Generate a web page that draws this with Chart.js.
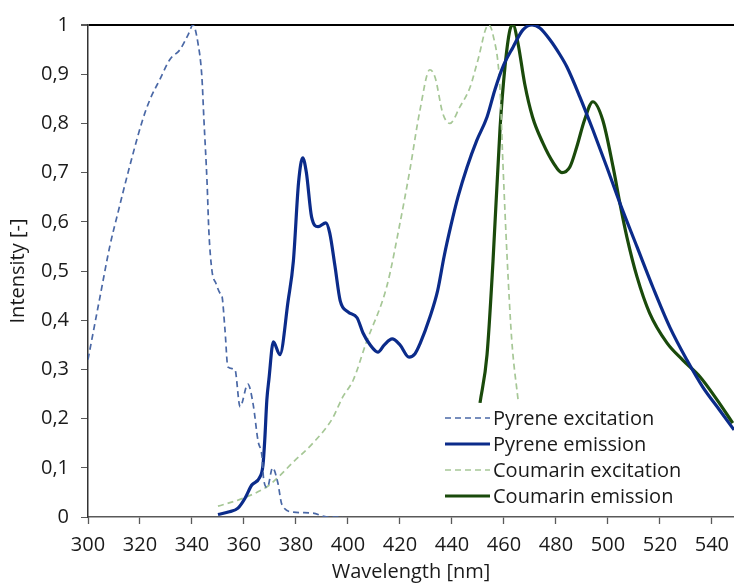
<!DOCTYPE html>
<html>
<head>
<meta charset="utf-8">
<script src="https://cdn.jsdelivr.net/npm/chart.js@4/dist/chart.umd.min.js"></script>
<style>
html,body{margin:0;padding:0;background:#fff;}
canvas{display:block;}
</style>
</head>
<body>
<canvas id="c" width="734" height="584"></canvas>
<script>
// ---- Data (wavelength nm, normalised intensity) ----
const pyExX = [300,304.6,308.5,311.5,315.4,321,323.8,327.7,331.5,335.4,338.5,340.4,342.3,343.8,344.6,345.8,346.5,347.7,349.2,350.8,351.5,352.7,353.8,356.5,358.5,361.5,363.5,365.4,367,367.5,369,371,373,374.6,379,386.5,392,398];
const pyExY = [0.32,0.447,0.553,0.618,0.70,0.807,0.848,0.89,0.93,0.95,0.98,1.0,0.963,0.895,0.807,0.68,0.58,0.50,0.475,0.455,0.45,0.38,0.305,0.30,0.224,0.27,0.23,0.155,0.12,0.08,0.06,0.10,0.07,0.025,0.01,0.008,0.0,0.0];

const pyEmX = [350,354,357.7,360.4,363,366,367.3,368,368.8,369.6,371.3,373.8,377,379,381,382.6,384,386,388.5,391.5,393,395,397,400,403.5,405.8,408.5,411.5,414,417,420,423.5,425.8,427.7,431.5,434.5,437,439.5,442.3,445.8,449.6,453.5,456.5,459.6,463.5,467.3,470.8,473.8,477.7,481.5,484.2,489.2,494.2,499.6,504.6,511.2,517.3,523.8,530.4,536.5,543,548.5];
const pyEmY = [0.005,0.01,0.018,0.038,0.065,0.08,0.105,0.157,0.238,0.28,0.356,0.33,0.44,0.52,0.68,0.73,0.70,0.61,0.59,0.598,0.577,0.51,0.44,0.417,0.405,0.374,0.35,0.335,0.35,0.362,0.35,0.325,0.332,0.352,0.406,0.46,0.53,0.59,0.65,0.711,0.766,0.813,0.868,0.915,0.955,0.99,1.0,0.994,0.97,0.94,0.915,0.854,0.787,0.711,0.638,0.549,0.467,0.386,0.319,0.264,0.217,0.177];

const coExX = [350,359.6,369,373,379,386.5,394,398,402,407,415,420,423.8,427.7,431.5,433.5,436.5,439.2,443,447,450,454,455.8,458.5,459.6,461.2,463,465.5];
const coExY = [0.022,0.038,0.062,0.08,0.112,0.15,0.20,0.244,0.278,0.354,0.47,0.597,0.705,0.827,0.909,0.894,0.82,0.80,0.833,0.874,0.929,1.0,0.98,0.87,0.72,0.53,0.36,0.235];

const coEmX = [450.8,453.5,455.8,458.5,460.4,462.3,463.5,465.4,468,471,475,479,482.3,485.4,488,491,494.2,498,502,504.6,507.3,511.2,516,522.7,528.8,535.4,542,548];
const coEmY = [0.232,0.33,0.52,0.79,0.915,0.99,1.0,0.963,0.88,0.813,0.76,0.72,0.70,0.712,0.752,0.807,0.844,0.807,0.711,0.638,0.569,0.488,0.415,0.354,0.319,0.285,0.238,0.191];

const seriesLabels = ['Pyrene excitation','Pyrene emission','Coumarin excitation','Coumarin emission'];
const xTicks = [300,320,340,360,380,400,420,440,460,480,500,520,540];
const yTickStep = 0.1;

const zip = (xs, ys) => xs.map((x, i) => ({x: x, y: ys[i]}));

const FONT = '"Open Sans", "Noto Sans", sans-serif';
const FS = 20;

const legendPlugin = {
  id: 'insideLegend',
  afterDraw(chart) {
    const ctx = chart.ctx;
    const x0 = 445, x1 = 490, tx = 493;
    const rows = [418, 444, 470, 496];
    ctx.save();
    ctx.font = FS + 'px ' + FONT;
    ctx.textBaseline = 'middle';
    ctx.textAlign = 'left';
    chart.data.datasets.forEach((ds, i) => {
      const y = rows[i];
      ctx.beginPath();
      ctx.strokeStyle = ds.borderColor;
      ctx.lineWidth = ds.borderWidth;
      ctx.setLineDash(ds.borderDash || []);
      ctx.moveTo(x0, y);
      ctx.lineTo(x1, y);
      ctx.stroke();
      ctx.setLineDash([]);
      ctx.fillStyle = '#1a1a1a';
      ctx.fillText(ds.label, tx, y + 1);
    });
    ctx.restore();
  }
};

new Chart(document.getElementById('c'), {
  type: 'line',
  data: {
    datasets: [
      {label: seriesLabels[0], data: zip(pyExX, pyExY), borderColor: '#4a68a6', borderWidth: 1.7, borderDash: [6,4], pointRadius: 0, cubicInterpolationMode: 'monotone', fill: false},
      {label: seriesLabels[1], data: zip(pyEmX, pyEmY), borderColor: '#0b2b8a', borderWidth: 3.2, pointRadius: 0, cubicInterpolationMode: 'monotone', fill: false},
      {label: seriesLabels[2], data: zip(coExX, coExY), borderColor: '#a6c796', borderWidth: 1.7, borderDash: [6,4], pointRadius: 0, cubicInterpolationMode: 'monotone', fill: false},
      {label: seriesLabels[3], data: zip(coEmX, coEmY), borderColor: '#1a4a0b', borderWidth: 3.2, pointRadius: 0, cubicInterpolationMode: 'monotone', fill: false}
    ]
  },
  options: {
    responsive: false,
    animation: false,
    devicePixelRatio: 1,
    layout: {padding: {top: 25, right: 0, left: 0, bottom: 0}},
    plugins: {legend: {display: false}, tooltip: {enabled: false}},
    scales: {
      x: {
        type: 'linear', min: 300, max: 548.5,
        afterFit(s) { s.height = 67; s.paddingRight = 0; },
        afterBuildTicks(s) { s.ticks = xTicks.map(v => ({value: v})); },
        ticks: {color: '#1a1a1a', font: {family: FONT, size: FS}, padding: 9, maxRotation: 0, autoSkip: false,
          callback: v => String(v)},
        grid: {drawOnChartArea: false, tickLength: 7, tickColor: '#595959', tickWidth: 1.3},
        border: {color: '#595959', width: 1.5},
        title: {display: true, text: 'Wavelength [nm]', color: '#1a1a1a', font: {family: FONT, size: FS}, padding: {top: 0, bottom: 0}}
      },
      y: {
        min: 0, max: 1,
        afterFit(s) { s.width = 88; },
        ticks: {stepSize: yTickStep, color: '#1a1a1a', font: {family: FONT, size: FS}, padding: 12,
          callback: v => { const r = Math.round(v * 10) / 10; return r === 0 ? '0' : r === 1 ? '1' : r.toFixed(1).replace('.', ','); }},
        grid: {
          tickLength: 7,
          tickColor: '#595959',
          color: c => (c.tick && Math.abs(c.tick.value - 1) < 1e-9 ? '#000' : 'rgba(0,0,0,0)'),
          lineWidth: c => (c.tick && Math.abs(c.tick.value - 1) < 1e-9 ? 2 : 1)
        },
        border: {color: '#333', width: 1.5},
        title: {display: true, text: 'Intensity [-]', color: '#1a1a1a', font: {family: FONT, size: FS}, padding: {top: 6, bottom: 0}}
      }
    }
  },
  plugins: [legendPlugin]
});
</script>
</body>
</html>
